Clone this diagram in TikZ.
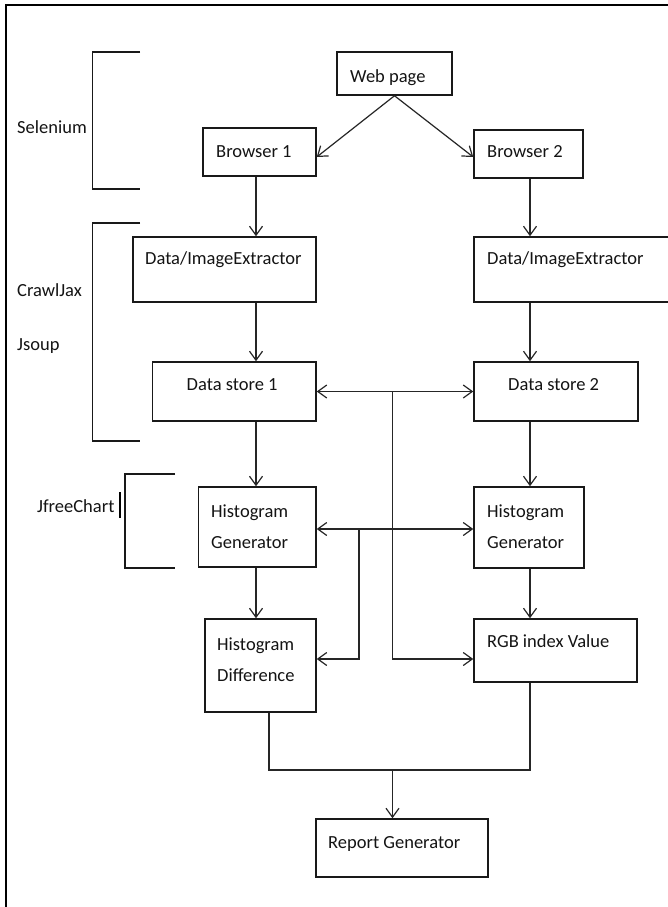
\documentclass[tikz,border=0pt]{standalone}
\usepackage{fontspec}
\setmainfont{Carlito}
\usetikzlibrary{arrows.meta,calc}
\begin{document}
\begin{tikzpicture}[x=1pt,y=-1pt,
  box/.style={draw=black!90, line width=1.5pt, inner sep=0pt, rectangle},
  txt/.style={inner sep=0pt, anchor=base west, font=\fontsize{18.5}{31}\selectfont, align=left, text=black!92},
  conn/.style={draw=black!85, line width=1.2pt},
  tip/.tip={Straight Barb[length=9pt,width=13pt,line width=1.2pt]},
  arr/.style={conn, -tip},
  darr/.style={conn, tip-tip},
  brk/.style={draw=black!90, line width=1.5pt},
]
\useasboundingbox (0,0) rectangle (668,907);
\clip (0,0) rectangle (668,907);
\fill[white] (0,0) rectangle (668,907);

% frame
\draw[line width=2pt, black] (6,910) -- (6,5) -- (672,5);

% column / row guides
\coordinate (colL) at (256,0);
\coordinate (colR) at (530,0);
\coordinate (colM) at (392.5,0);
\coordinate (colM2) at (359,0);
\coordinate (colB) at (269,0);
\coordinate (midH) at (0,529);
\coordinate (low) at (0,659);
\coordinate (bot) at (0,770);

% boxes
\node[box, minimum width=115pt, minimum height=43pt] (web) at (394.5,73.5) {};
\node[box, minimum width=113pt, minimum height=48pt] (b1) at (259.5,152) {};
\node[box, minimum width=109pt, minimum height=48pt] (b2) at (528.5,154) {};
\node[box, minimum width=183pt, minimum height=65pt] (die1) at (224.5,269.5) {};
\node[box, minimum width=206pt, minimum height=65pt] (die2) at (577,269.5) {};
\node[box, minimum width=163.5pt, minimum height=59pt] (ds1) at (234.25,391.5) {};
\node[box, minimum width=164pt, minimum height=59pt] (ds2) at (556,391.5) {};
\node[box, minimum width=117.5pt, minimum height=80pt] (hg1) at (257.25,527) {};
\node[box, minimum width=110pt, minimum height=81pt] (hg2) at (529,527.5) {};
\node[box, minimum width=111pt, minimum height=93pt] (hd) at (260.5,665.5) {};
\node[box, minimum width=163pt, minimum height=63pt] (rgb) at (555.5,650.5) {};
\node[box, minimum width=172pt, minimum height=58pt] (rep) at (402,848) {};

% box texts
\node[txt] (webt) at (350,82) {Web page};
\node[txt] (b1t) at (216,157) {Browser 1};
\node[txt] (b2t) at (487,157) {Browser 2};
\node[txt] (die1t) at (145,264) {Data/ImageExtractor};
\node[txt] (die2t) at (487,264) {Data/ImageExtractor};
\node[txt] (ds1t) at (186.5,390) {Data store 1};
\node[txt] (ds2t) at (508,390) {Data store 2};
\node[txt] (hg1t) at (211,548) {Histogram\\Generator};
\node[txt] (hg2t) at (487,548) {Histogram\\Generator};
\node[txt] (hdt) at (217,681) {Histogram\\Difference};
\node[txt] (rgbt) at (487,647) {RGB index Value};
\node[txt] (rept) at (328,848) {Report Generator};

% side labels
\node[txt] (sel) at (17,133) {Selenium};
\node[txt] (crawl) at (17,296) {CrawlJax};
\node[txt] (jsoup) at (17,350) {Jsoup};
\node[txt] (jfree) at (37,512) {JfreeChart};
\draw[line width=2.6pt, black] (120,492) -- (120,518);

% brackets
\draw[brk] (140,52) -- (92.5,52) -- (92.5,189) -- (140,189);
\draw[brk] (140,223) -- (92.5,223) -- (92.5,441) -- (140,441);
\draw[brk] (175,474) -- (125,474) -- (125,568) -- (175,568);

% connectors
\draw[arr] (web.south) -- ([yshift=-5pt]b1.east);
\draw[arr] (web.south) -- ([yshift=-3pt]b2.west);
\draw[arr] (b1.south -| colL) -- (die1.north -| colL);
\draw[arr] (b2.south -| colR) -- (die2.north -| colR);
\draw[arr] (die1.south -| colL) -- (ds1.north -| colL);
\draw[arr] (die2.south -| colR) -- (ds2.north -| colR);
\draw[darr] (ds1.east) -- (ds1.east -| ds2.west);
\draw[arr] (colM |- ds1.east) -- (colM |- low) -- (rgb.west |- low);
\draw[arr] (ds1.south -| colL) -- (hg1.north -| colL);
\draw[arr] (ds2.south -| colR) -- (hg2.north -| colR);
\draw[darr] (hg1.east |- midH) -- (hg2.west |- midH);
\draw[arr] (colM2 |- midH) -- (colM2 |- low) -- (hd.east |- low);
\draw[arr] (hg1.south -| colL) -- (hd.north -| colL);
\draw[arr] (hg2.south -| colR) -- (rgb.north -| colR);
\draw[conn] (hd.south -| colB) -- (colB |- bot) -- (colR |- bot) -- (rgb.south -| colR);
\draw[arr] (colM |- bot) -- (rep.north -| colM);
\end{tikzpicture}
\end{document}
